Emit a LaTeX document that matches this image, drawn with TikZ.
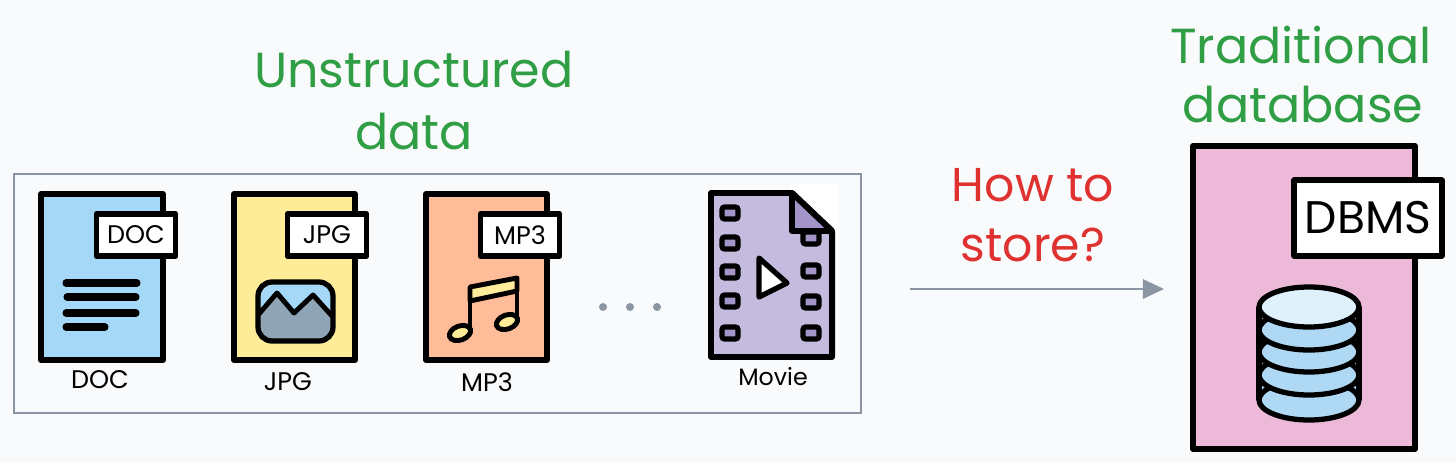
\documentclass[tikz,border=0pt]{standalone}
\usepackage{fontspec}
\setmainfont{Poppins}
\usetikzlibrary{arrows.meta}
\definecolor{pagebg}{HTML}{F9FAFC}
\definecolor{framegray}{HTML}{8A96A3}
\definecolor{titlegreen}{HTML}{2F9E44}
\definecolor{askred}{HTML}{E03131}
\definecolor{docblue}{HTML}{A5D8F7}
\definecolor{jpgyellow}{HTML}{FFEC99}
\definecolor{mpthreeorange}{HTML}{FFBC99}
\definecolor{movielilac}{HTML}{C5BBDF}
\definecolor{moviedark}{HTML}{A394C8}
\definecolor{dbpink}{HTML}{ECBAD8}
\definecolor{diskblue}{HTML}{AED8F3}
\definecolor{disktop}{HTML}{DFF1FB}
\definecolor{rockgray}{HTML}{8FA5B5}
\tikzset{
    title/.style={text=titlegreen, font=\fontsize{28}{32}\selectfont},
    ask/.style={text=askred, font=\fontsize{27}{32}\selectfont},
    filebody/.style={draw=black, line width=3.4pt, line join=round},
    tagbox/.style={draw=black, fill=white, line width=3.2pt, line join=round, inner sep=0pt, minimum width=45pt, minimum height=24pt, font=\fontsize{14.5}{17}\selectfont},
    caption/.style={font=\fontsize{14.5}{17}\selectfont},
    textbar/.style={line width=4pt, line cap=round},
    hole/.style={draw=black, fill=moviedark, line width=3pt, rounded corners=1.5pt},
}
\begin{document}
\begin{tikzpicture}[x=0.02cm, y=-0.02cm]
    \useasboundingbox (0,0) rectangle (1456,463);
    \fill[pagebg] (0,0) rectangle (1456,463);

    \node[title] (unstructured) at (414,70) {Unstructured};
    \node[title] (datatitle) at (414,132) {data};
    \node[title] (traditional) at (1301,45) {Traditional};
    \node[title] (database) at (1303,105) {database};
    \node[ask] (howto) at (1033,185) {How to};
    \node[ask] (store) at (1033,245) {store?};

    \draw[framegray, line width=1.3pt] (14,174) rectangle (861,413);

    % DOC file
    \draw[filebody, fill=docblue] (41,194) rectangle (163,360);
    \node[tagbox] (doctag) at (136,235) {DOC};
    \draw[textbar] (66,283) -- (137,283);
    \draw[textbar] (67,297) -- (136,297);
    \draw[textbar] (66,313) -- (136,313);
    \draw[textbar] (66,327) -- (105,327);
    \node[caption] (doccap) at (100,380) {DOC};

    % JPG file
    \draw[filebody, fill=jpgyellow] (234,194) rectangle (355,360);
    \node[tagbox] (jpgtag) at (327,235) {JPG};
    \begin{scope}
        \clip[rounded corners=8pt] (258,282) rectangle (333,341);
        \fill[docblue] (258,282) rectangle (333,341);
        \fill[rockgray] (258,313) -- (277,293) -- (294,313) -- (313,295) -- (333,317) -- (333,341) -- (258,341) -- cycle;
        \draw[line width=2.8pt, line join=round] (258,315) -- (277,293) -- (294,313) -- (313,295) -- (333,317);
    \end{scope}
    \draw[line width=3pt, rounded corners=8pt] (258,282) rectangle (333,341);
    \node[caption] (jpgcap) at (288,382) {JPG};

    % MP3 file
    \draw[filebody, fill=mpthreeorange] (426,194) rectangle (547,360);
    \node[tagbox] (mpthreetag) at (520,235) {MP3};
    \draw[fill=jpgyellow, line width=2.8pt, line join=round] (470,287) -- (517,278) -- (517,291) -- (470,301) -- cycle;
    \draw[line width=2.8pt] (470,287) -- (470,333);
    \draw[line width=2.8pt] (517,278) -- (517,322);
    \draw[fill=jpgyellow, line width=2.8pt, rotate around={20:(460,333)}] (460,333) ellipse [x radius=11, y radius=7];
    \draw[fill=jpgyellow, line width=2.8pt, rotate around={20:(507,322)}] (507,322) ellipse [x radius=11, y radius=7];
    \node[caption] (mpthreecap) at (487,382) {MP3};

    % dots
    \foreach \p in {603,630,657}
        \fill[framegray] (\p,307) circle [radius=4];

    % Movie file
    \fill[white] (790,184) rectangle (838,232);
    \draw[filebody, fill=movielilac] (711,193) -- (792,193) -- (832,231) -- (832,357) -- (711,357) -- cycle;
    \foreach \q in {213,243,272,301,333}
        \draw[hole] (722,\q-6) rectangle (738,\q+6);
    \foreach \q in {238,271,302,333}
        \draw[hole] (803,\q-6) rectangle (819,\q+6);
    \draw[filebody, fill=moviedark] (792,193) -- (832,231) -- (792,231) -- cycle;
    \draw[line width=3pt, fill=white, line join=round] (759,258) -- (787,283) -- (759,297) -- cycle;
    \node[caption, font=\fontsize{13.5}{16}\selectfont] (moviecap) at (773,377) {Movie};

    % DBMS
    \draw[filebody, fill=dbpink] (1193,146) rectangle (1415,449);
    \node[tagbox, minimum width=84pt, minimum height=43pt, font=\fontsize{26}{30}\selectfont] (dbmstag) at (1368,218) {DBMS};
    \fill[diskblue] (1259,307) rectangle (1359,400);
    \foreach \c in {400,375,352,330}
        \draw[fill=diskblue, line width=3pt] (1309,\c) ellipse [x radius=50, y radius=20];
    \draw[fill=disktop, line width=3pt] (1309,307) ellipse [x radius=50, y radius=20];
    \draw[line width=3pt] (1259,307) -- (1259,400);
    \draw[line width=3pt] (1359,307) -- (1359,400);

    % arrow
    \coordinate (arrowstart) at (910,289);
    \coordinate (arrowend) at (1164,289);
    \draw[framegray, line width=1.2pt, -{Triangle[length=12pt, width=11pt]}] (arrowstart) -- (arrowend);
\end{tikzpicture}
\end{document}
